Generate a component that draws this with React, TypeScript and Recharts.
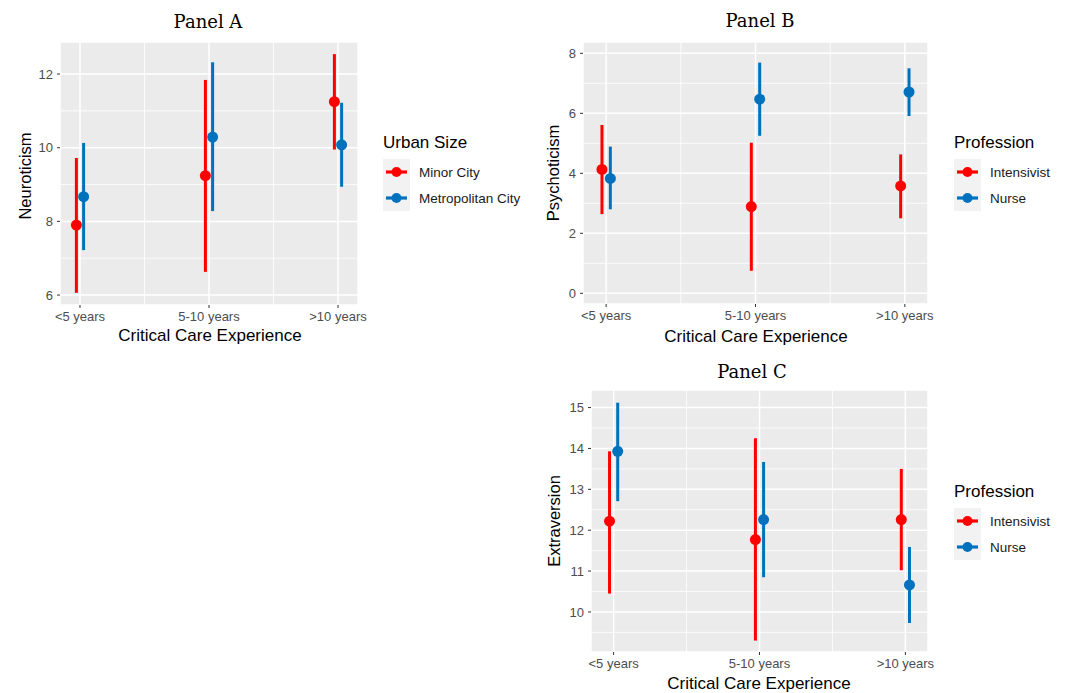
import React from 'react';
import { ScatterChart, Scatter, XAxis, YAxis, CartesianGrid, ErrorBar, ReferenceLine } from 'recharts';

const categories = ['<5 years', '5-10 years', '>10 years'];

// Panel A – Neuroticism by urban size
const neuroMinorMean = [7.9, 9.24, 11.25];
const neuroMinorLow = [6.06, 6.63, 9.95];
const neuroMinorHigh = [9.72, 11.84, 12.54];
const neuroMetroMean = [8.67, 10.29, 10.08];
const neuroMetroLow = [7.22, 8.28, 8.94];
const neuroMetroHigh = [10.13, 12.32, 11.22];

// Panel B – Psychoticism by profession
const psychIntMean = [4.13, 2.89, 3.58];
const psychIntLow = [2.64, 0.75, 2.5];
const psychIntHigh = [5.61, 5.02, 4.63];
const psychNurseMean = [3.83, 6.47, 6.71];
const psychNurseLow = [2.8, 5.25, 5.91];
const psychNurseHigh = [4.89, 7.69, 7.5];

// Panel C – Extraversion by profession
const extraIntMean = [12.22, 11.77, 12.26];
const extraIntLow = [10.45, 9.3, 11.02];
const extraIntHigh = [13.93, 14.25, 13.5];
const extraNurseMean = [13.93, 12.26, 10.66];
const extraNurseLow = [12.71, 10.85, 9.73];
const extraNurseHigh = [15.12, 13.67, 11.59];

const neuroTicks = [6, 8, 10, 12];
const neuroMinor = [7, 9, 11];
const psychTicks = [0, 2, 4, 6, 8];
const psychMinor = [1, 3, 5, 7];
const extraTicks = [10, 11, 12, 13, 14, 15];
const extraMinor = [9.5, 10.5, 11.5, 12.5, 13.5, 14.5];

const RED = '#FF0000';
const BLUE = '#0072BD';
const SANS = '"Liberation Sans", Arial, Helvetica, sans-serif';
const SERIF = '"DejaVu Serif", serif';
const DODGE = 0.028;

function build(mean: number[], low: number[], high: number[], offset: number) {
  return categories.map((c, i) => ({
    x: i + 1 + offset,
    y: mean[i],
    err: [mean[i] - low[i], high[i] - mean[i]],
    cat: c,
  }));
}

type Series = { data: any[]; color: string; name: string };

function Panel(props: {
  left: number;
  top: number;
  plotW: number;
  plotH: number;
  yWidth: number;
  yDomain: [number, number];
  yTicks: number[];
  yMinor: number[];
  series: Series[];
}) {
  const { left, top, plotW, plotH, yWidth, yDomain, yTicks, yMinor, series } = props;
  const extraR = 30;
  const xH = 40;
  return (
    <div style={{ position: 'absolute', left: left - yWidth, top }}>
      <ScatterChart
        width={yWidth + plotW + extraR}
        height={plotH + xH}
        margin={{ top: 0, right: extraR, bottom: 0, left: 0 }}
      >
        <CartesianGrid fill="#EBEBEB" fillOpacity={1} stroke="#FFFFFF" strokeWidth={1.5} />
        {yMinor.map((v) => (
          <ReferenceLine key={'y' + v} y={v} stroke="#FFFFFF" strokeWidth={0.8} ifOverflow="hidden" />
        ))}
        {[1.5, 2.5].map((v) => (
          <ReferenceLine key={'x' + v} x={v} stroke="#FFFFFF" strokeWidth={0.8} ifOverflow="hidden" />
        ))}
        <XAxis
          type="number"
          dataKey="x"
          domain={[0.845, 3.155]}
          ticks={[1, 2, 3]}
          interval={0}
          allowDataOverflow
          tickFormatter={(v: number) => categories[Math.round(v) - 1]}
          height={xH}
          axisLine={false}
          tickLine={{ stroke: '#333333' }}
          tickSize={3}
          tickMargin={4}
          tick={{ fill: '#4D4D4D', fontSize: 13, fontFamily: SANS }}
        />
        <YAxis
          type="number"
          dataKey="y"
          domain={yDomain}
          ticks={yTicks}
          interval={0}
          allowDataOverflow
          width={yWidth}
          axisLine={false}
          tickLine={{ stroke: '#333333' }}
          tickSize={3}
          tickMargin={4}
          tick={{ fill: '#4D4D4D', fontSize: 13, fontFamily: SANS }}
        />
        {series.map((s) => (
          <Scatter
            key={s.name}
            name={s.name}
            data={s.data}
            fill={s.color}
            isAnimationActive={false}
            shape={(p: any) => <circle cx={p.cx} cy={p.cy} r={5.5} fill={s.color} />}
          >
            <ErrorBar
              dataKey="err"
              direction="y"
              width={0}
              stroke={s.color}
              strokeWidth={3}
              isAnimationActive={false}
            />
          </Scatter>
        ))}
      </ScatterChart>
    </div>
  );
}

function LegendBlock(props: { x: number; titleY: number; keyTop: number; title: string; items: { label: string; color: string }[] }) {
  const { x, titleY, keyTop, title, items } = props;
  return (
    <g>
      <text x={x} y={titleY} fontFamily={SANS} fontSize={17} fill="#000">
        {title}
      </text>
      <rect x={x} y={keyTop} width={27} height={26 * items.length} fill="#F2F2F2" />
      {items.map((it, i) => {
        const cy = keyTop + 13 + 26 * i;
        return (
          <g key={it.label}>
            <line x1={x + 3} x2={x + 24} y1={cy} y2={cy} stroke={it.color} strokeWidth={3.2} />
            <circle cx={x + 13.5} cy={cy} r={5} fill={it.color} />
            <text x={x + 36} y={cy + 4.8} fontFamily={SANS} fontSize={13.5} fill="#1A1A1A">
              {it.label}
            </text>
          </g>
        );
      })}
    </g>
  );
}

export default function App() {
  const aSeries: Series[] = [
    { name: 'Minor City', color: RED, data: build(neuroMinorMean, neuroMinorLow, neuroMinorHigh, -DODGE) },
    { name: 'Metropolitan City', color: BLUE, data: build(neuroMetroMean, neuroMetroLow, neuroMetroHigh, DODGE) },
  ];
  const bSeries: Series[] = [
    { name: 'Intensivist', color: RED, data: build(psychIntMean, psychIntLow, psychIntHigh, -DODGE) },
    { name: 'Nurse', color: BLUE, data: build(psychNurseMean, psychNurseLow, psychNurseHigh, DODGE) },
  ];
  const cSeries: Series[] = [
    { name: 'Intensivist', color: RED, data: build(extraIntMean, extraIntLow, extraIntHigh, -DODGE) },
    { name: 'Nurse', color: BLUE, data: build(extraNurseMean, extraNurseLow, extraNurseHigh, DODGE) },
  ];

  return (
    <div style={{ position: 'absolute', left: 0, top: 0, width: 1067, height: 693, background: '#fff', overflow: 'hidden' }}>
      <Panel left={60} top={42} plotW={298} plotH={263} yWidth={60} yDomain={[5.73, 12.87]} yTicks={neuroTicks} yMinor={neuroMinor} series={aSeries} />
      <Panel left={583} top={42} plotW={345} plotH={262} yWidth={40} yDomain={[-0.357, 8.377]} yTicks={psychTicks} yMinor={psychMinor} series={bSeries} />
      <Panel left={591} top={390} plotW={337} plotH={262} yWidth={40} yDomain={[9.02, 15.43]} yTicks={extraTicks} yMinor={extraMinor} series={cSeries} />
      <svg width={1067} height={693} style={{ position: 'absolute', left: 0, top: 0, pointerEvents: 'none' }}>
        <text x={208} y={28} textAnchor="middle" fontFamily={SERIF} fontSize={18} fill="#000">Panel A</text>
        <text x={760} y={27} textAnchor="middle" fontFamily={SERIF} fontSize={18} fill="#000">Panel B</text>
        <text x={752} y={378} textAnchor="middle" fontFamily={SERIF} fontSize={18} fill="#000">Panel C</text>

        <text x={210} y={341} textAnchor="middle" fontFamily={SANS} fontSize={17} fill="#000">Critical Care Experience</text>
        <text x={756} y={341.5} textAnchor="middle" fontFamily={SANS} fontSize={17} fill="#000">Critical Care Experience</text>
        <text x={759} y={689} textAnchor="middle" fontFamily={SANS} fontSize={17} fill="#000">Critical Care Experience</text>

        <text transform="translate(31,176) rotate(-90)" textAnchor="middle" fontFamily={SANS} fontSize={16.5} fill="#000">Neuroticism</text>
        <text transform="translate(559,173) rotate(-90)" textAnchor="middle" fontFamily={SANS} fontSize={16.5} fill="#000">Psychoticism</text>
        <text transform="translate(560,521) rotate(-90)" textAnchor="middle" fontFamily={SANS} fontSize={16.5} fill="#000">Extraversion</text>

        <LegendBlock x={383} titleY={148} keyTop={159} title="Urban Size" items={[{ label: 'Minor City', color: RED }, { label: 'Metropolitan City', color: BLUE }]} />
        <LegendBlock x={954} titleY={148} keyTop={159} title="Profession" items={[{ label: 'Intensivist', color: RED }, { label: 'Nurse', color: BLUE }]} />
        <LegendBlock x={954} titleY={497} keyTop={508} title="Profession" items={[{ label: 'Intensivist', color: RED }, { label: 'Nurse', color: BLUE }]} />
      </svg>
    </div>
  );
}
